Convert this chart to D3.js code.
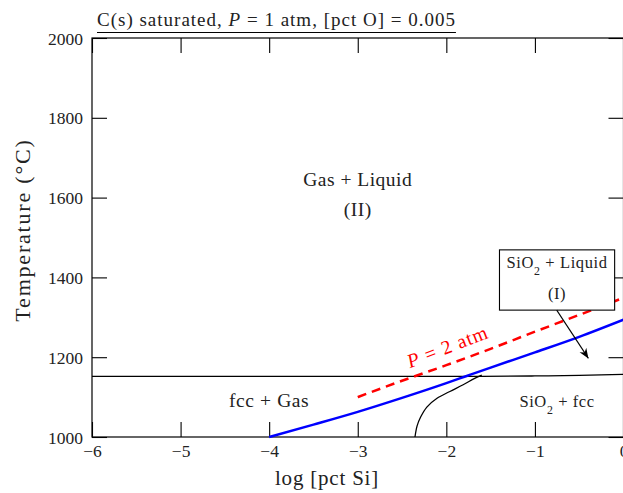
<!DOCTYPE html>
<html>
<head>
<meta charset="utf-8">
<script src="https://cdn.jsdelivr.net/npm/d3@7"></script>
<style>
  body { margin: 0; background: #fff; }
  svg text { font-family: "Liberation Serif", "DejaVu Serif", serif; fill: #222; }
</style>
</head>
<body>
<div id="chart"></div>
<script>
// values: x = log [pct Si], y = temperature in C
const xTicks = [-6, -5, -4, -3, -2, -1, 0]
const yTicks = [1000, 1200, 1400, 1600, 1800, 2000]

// P = 1 atm SiO2 / gas boundary (blue)
const bluePts = [[-4, 1000], [-3.5, 1031], [-3, 1063], [-2.5, 1098], [-2, 1135], [-1.77, 1153],
                 [-1.5, 1174], [-1, 1212], [-0.5, 1251], [0, 1294]]
// P = 2 atm boundary (red dashed)
const redPts = [[-3, 1100], [-2.5, 1141], [-2, 1180], [-1.5, 1221], [-1, 1264], [-0.5, 1306], [0, 1349]]
// fcc eutectic line (black)
const eutecticPts = [[-6, 1152], [-1.6, 1152], [-1, 1153], [-0.5, 1154.5], [0, 1157]]
// SiO2 + fcc boundary (black)
const fccPts = [[-2.354, 1000], [-2.33, 1028], [-2.29, 1050], [-2.22, 1075], [-2.105, 1097],
                [-1.96, 1114], [-1.81, 1131], [-1.68, 1147], [-1.6, 1155]]

const W = 623, H = 493
const m = {top: 38, left: 92, bottom: 56}
const plotW = 531.5, plotH = H - m.top - m.bottom
const serif = '"Liberation Serif", "DejaVu Serif", serif'

const svg = d3.select('#chart').append('svg')
  .attr('width', W).attr('height', H)

const x = d3.scaleLinear().domain([-6, 0]).range([m.left, m.left + plotW])
const y = d3.scaleLinear().domain([1000, 2000]).range([m.top + plotH, m.top])

const line = d3.line().x(d => x(d[0])).y(d => y(d[1]))

// frame
svg.append('rect')
  .attr('x', x(-6)).attr('y', y(2000))
  .attr('width', plotW).attr('height', plotH)
  .attr('fill', 'none').attr('stroke', '#000').attr('stroke-width', 1.2)

// axes with inward ticks on all sides
const tickLen = 15
const gBottom = svg.append('g').attr('transform', `translate(0,${y(1000)})`)
  .call(d3.axisBottom(x).tickValues(xTicks).tickSizeInner(-tickLen).tickSizeOuter(0).tickPadding(6)
    .tickFormat(d => d === 0 ? '0' : '\u2212' + Math.abs(d)))
const gTop = svg.append('g').attr('transform', `translate(0,${y(2000)})`)
  .call(d3.axisTop(x).tickValues(xTicks).tickSizeInner(-tickLen).tickSizeOuter(0).tickFormat(''))
const gLeft = svg.append('g').attr('transform', `translate(${x(-6)},0)`)
  .call(d3.axisLeft(y).tickValues(yTicks).tickSizeInner(-tickLen).tickSizeOuter(0).tickPadding(9)
    .tickFormat(d3.format('d')))
const gRight = svg.append('g').attr('transform', `translate(${x(0)},0)`)
  .call(d3.axisRight(y).tickValues(yTicks).tickSizeInner(-tickLen).tickSizeOuter(0).tickFormat(''))

;[gBottom, gTop, gLeft, gRight].forEach(g => {
  g.attr('font-family', serif).attr('font-size', 17.5)
  g.select('.domain').remove()
  g.selectAll('line').attr('stroke', '#000').attr('stroke-width', 1.1)
  g.selectAll('text').style('font-family', serif).style('font-size', '17.5px').style('fill', '#222')
})
gBottom.selectAll('text').attr('dy', '0.8em')
gLeft.selectAll('text').attr('dy', '0.35em')

// curves
svg.append('path').datum(eutecticPts).attr('d', line.curve(d3.curveMonotoneX))
  .attr('fill', 'none').attr('stroke', '#000').attr('stroke-width', 1.3)
svg.append('path').datum(fccPts).attr('d', line.curve(d3.curveCatmullRom))
  .attr('fill', 'none').attr('stroke', '#000').attr('stroke-width', 1.3)
svg.append('path').datum(redPts).attr('d', line.curve(d3.curveMonotoneX))
  .attr('fill', 'none').attr('stroke', '#ff0000').attr('stroke-width', 2.5)
  .attr('stroke-dasharray', '9,6')
svg.append('path').datum(bluePts).attr('d', line.curve(d3.curveMonotoneX))
  .attr('fill', 'none').attr('stroke', '#0000ff').attr('stroke-width', 2.5)

// region labels
function label(tx, ty, parts, size, spacing) {
  const t = svg.append('text').attr('x', x(tx)).attr('y', y(ty))
    .attr('text-anchor', 'middle').attr('font-size', size)
    .attr('letter-spacing', spacing)
  parts.forEach(p => {
    const s = t.append('tspan').text(p.t)
    if (p.sub) s.attr('baseline-shift', 'sub').attr('font-size', size * 0.72)
    if (p.it) s.attr('font-style', 'italic')
  })
  return t
}
label(-3, 1630, [{t: 'Gas + Liquid'}], 19.5, 0.5)
label(-3, 1555, [{t: '(II)'}], 19.5, 0.5)
label(-4, 1075, [{t: 'fcc + Gas'}], 19.5, 0.6)
label(-0.75, 1075, [{t: 'SiO'}, {t: '2', sub: true}, {t: ' + fcc'}], 16.5, 0.6)

// box label (I)
svg.append('rect')
  .attr('x', x(-1.40)).attr('y', y(1469))
  .attr('width', x(-0.10) - x(-1.40)).attr('height', y(1318) - y(1469))
  .attr('fill', '#fff').attr('stroke', '#000').attr('stroke-width', 1.1)
label(-0.75, 1423, [{t: 'SiO'}, {t: '2', sub: true}, {t: ' + Liquid'}], 16.5, 0.6)
label(-0.75, 1345, [{t: '(I)'}], 16.5, 0.6)

// arrow from box to region
svg.append('defs').append('marker')
  .attr('id', 'arr').attr('viewBox', '0 0 10 10').attr('refX', 10).attr('refY', 5)
  .attr('markerWidth', 10).attr('markerHeight', 10).attr('markerUnits', 'userSpaceOnUse')
  .attr('orient', 'auto')
  .append('path').attr('d', 'M0,1 L10,5 L0,9 L3,5 Z').attr('fill', '#000')
svg.append('line')
  .attr('x1', x(-0.754)).attr('y1', y(1318))
  .attr('x2', x(-0.396)).attr('y2', y(1197))
  .attr('stroke', '#000').attr('stroke-width', 1.1)
  .attr('marker-end', 'url(#arr)')

// P = 2 atm label
const pl = svg.append('text')
  .attr('transform', `translate(${x(-1.96)},${y(1211)}) rotate(-21)`)
  .attr('text-anchor', 'middle').attr('font-size', 19.5).attr('letter-spacing', 1)
  .style('fill', '#ff0000')
pl.append('tspan').attr('font-style', 'italic').text('P')
pl.append('tspan').text(' = 2 atm')

// axis titles
svg.append('text').attr('x', 327).attr('y', 485).attr('text-anchor', 'middle')
  .attr('font-size', 21).attr('letter-spacing', 0.8).text('log [pct Si]')
svg.append('text').attr('transform', 'translate(30,230) rotate(-90)').attr('text-anchor', 'middle')
  .attr('font-size', 22).attr('letter-spacing', 1.8).text('Temperature (\u00b0C)')

// underlined title
const title = svg.append('text').attr('x', 97).attr('y', 26).attr('font-size', 19)
  .attr('letter-spacing', 1)
title.append('tspan').text('C(s) saturated, ')
title.append('tspan').attr('font-style', 'italic').text('P')
title.append('tspan').text(' = 1 atm, [pct O] = 0.005')
const tw = title.node().getComputedTextLength()
svg.append('line').attr('x1', 97).attr('x2', 97 + tw).attr('y1', 32.5).attr('y2', 32.5)
  .attr('stroke', '#000').attr('stroke-width', 1.1)
</script>
</body>
</html>
